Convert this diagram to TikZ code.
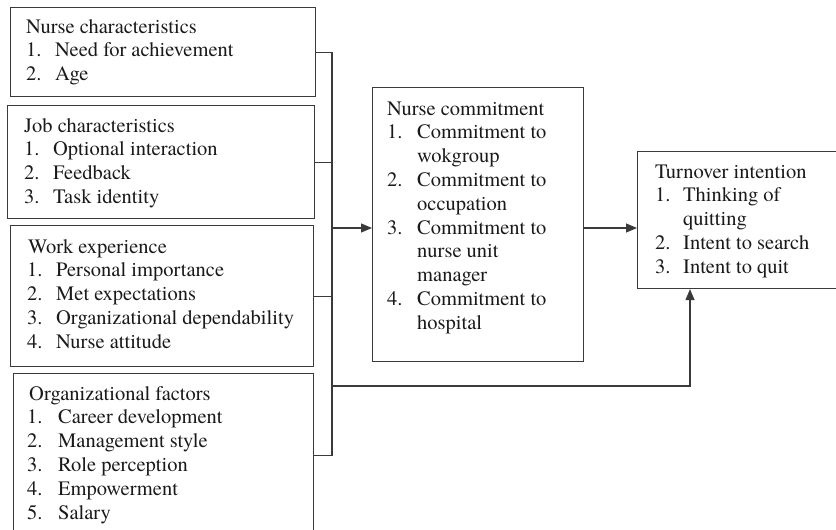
\documentclass[tikz,border=0pt]{standalone}
\usepackage{fontspec}
\setmainfont{texgyretermes}[Extension=.otf, UprightFont=*-regular, BoldFont=*-bold, ItalicFont=*-italic, BoldItalicFont=*-bolditalic, Ligatures=TeX]
\usetikzlibrary{arrows.meta}
\definecolor{linec}{HTML}{3A3A3A}
\definecolor{textc}{HTML}{1A1A1A}
\begin{document}
\begin{tikzpicture}[x=1pt,y=-1pt,
  box/.style={draw=linec, line width=1.1pt, rectangle, inner sep=0pt, anchor=north west},
  txt/.style={inner sep=0pt, anchor=base west, text=textc, font=\rmfamily\fontsize{20.5}{23.8}\selectfont},
  conn/.style={draw=linec, line width=1.1pt},
  arr/.style={conn, -{Triangle[length=11pt,width=9pt]}}]
\useasboundingbox (0,0) rectangle (836,530);
% boxes
\node[box, minimum width=305pt, minimum height=89pt] (b1) at (10,7) {};
\node[box, minimum width=307pt, minimum height=113pt] (b2) at (7,105) {};
\node[box, minimum width=303pt, minimum height=141pt] (b3) at (10,225) {};
\node[box, minimum width=300pt, minimum height=164pt] (b4) at (13,373) {};
\node[box, minimum width=211pt, minimum height=274pt] (nc) at (372,87) {};
\node[box, minimum width=200pt, minimum height=137pt] (ti) at (637,151) {};
% texts
\node[txt] (t1) at (26,33) {\begin{tabular}[t]{@{}p{29pt}@{}l@{}}
\multicolumn{2}{@{}l@{}}{Nurse characteristics}\\
1. & Need for achievement\\
2. & Age\end{tabular}};
\node[txt] (t2) at (24,132) {\begin{tabular}[t]{@{}p{29pt}@{}l@{}}
\multicolumn{2}{@{}l@{}}{Job characteristics}\\
1. & Optional interaction\\
2. & Feedback\\
3. & Task identity\end{tabular}};
\node[txt] (t3) at (27,253) {\begin{tabular}[t]{@{}p{29pt}@{}l@{}}
\multicolumn{2}{@{}l@{}}{\hspace{1pt}Work experience}\\
1. & Personal importance\\
2. & Met expectations\\
3. & Organizational dependability\\
4. & Nurse attitude\end{tabular}};
\node[txt] (t4) at (27,400) {\begin{tabular}[t]{@{}p{31pt}@{}l@{}}
\multicolumn{2}{@{}l@{}}{\hspace{2pt}Organizational factors}\\
1. & Career development\\
2. & Management style\\
3. & Role perception\\
4. & Empowerment\\
5. & Salary\end{tabular}};
\node[txt] (t5) at (387,115) {\begin{tabular}[t]{@{}p{30pt}@{}l@{}}
\multicolumn{2}{@{}l@{}}{Nurse commitment}\\
1. & Commitment to\\
   & wokgroup\\
2. & Commitment to\\
   & occupation\\
3. & Commitment to\\
   & nurse unit\\
   & manager\\
4. & Commitment to\\
   & hospital\end{tabular}};
\node[txt] (t6) at (655,178) {\begin{tabular}[t]{@{}p{28pt}@{}l@{}}
\multicolumn{2}{@{}l@{}}{Turnover intention}\\
1. & Thinking of\\
   & quitting\\
2. & Intent to search\\
3. & Intent to quit\end{tabular}};
% connector helpers
\coordinate (busx) at (332,0);
\coordinate (mainy) at (0,228);
\coordinate (lowy) at (0,386);
\coordinate (tix) at (690,0);
% bus
\draw[conn] (b1.east) -- (b1.east -| busx) -- (b4.east -| busx) -- (b4.east);
\draw[conn] (b2.east) -- (b2.east -| busx);
\draw[conn] (b3.east) -- (b3.east -| busx);
\draw[arr] (busx |- mainy) -- (nc.west |- mainy);
\draw[arr] (nc.east |- mainy) -- (ti.west |- mainy);
\draw[arr] (busx |- lowy) -- (tix |- lowy) -- (tix |- ti.south);
\end{tikzpicture}
\end{document}
